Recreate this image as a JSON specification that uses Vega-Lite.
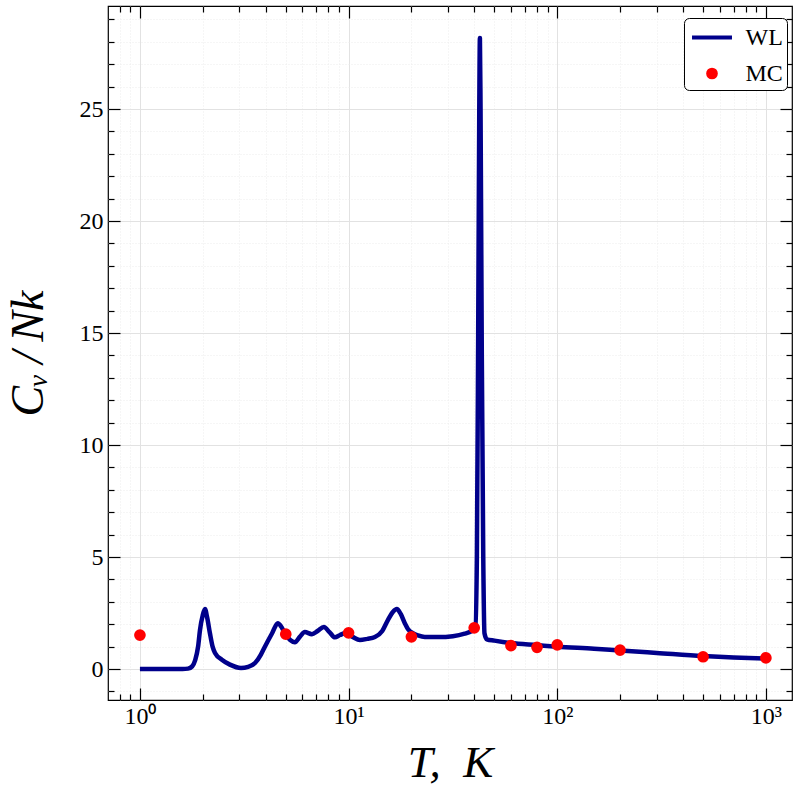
{
  "$schema": "https://vega.github.io/schema/vega-lite/v6.json",
  "width": 684,
  "height": 694,
  "autosize": {"type": "none"},
  "padding": {"left": 108, "top": 6, "right": 1, "bottom": 93},
  "background": "white",
  "config": {
    "view": {"stroke": "black", "strokeWidth": 1.2},
    "axis": {"domain": false, "tickColor": "black", "tickWidth": 1.2, "labelFont": "Liberation Serif", "titleFont": "Liberation Serif", "labelColor": "black", "titleColor": "black", "titleFontWeight": "normal"},
    "legend": {"orient": "none", "legendX": 576, "legendY": 12, "strokeColor": "black", "cornerRadius": 5, "fillColor": "white", "padding": 4,
      "labelFont": "Liberation Serif", "labelFontSize": 24, "labelColor": "black", "symbolSize": 729, "symbolStrokeWidth": 4, "symbolOffset": 8.5, "labelOffset": 18, "rowPadding": 8}
  },
  "datasets": {
    "wl": [
      {"T": 1.0, "Cv": 0}, {"T": 1.3, "Cv": 0}, {"T": 1.6, "Cv": 0}, {"T": 1.7, "Cv": 0.02}, {"T": 1.78, "Cv": 0.12},
      {"T": 1.84, "Cv": 0.4}, {"T": 1.9, "Cv": 1.0}, {"T": 1.94, "Cv": 1.74}, {"T": 2.0, "Cv": 2.4}, {"T": 2.05, "Cv": 2.68},
      {"T": 2.1, "Cv": 2.3}, {"T": 2.165, "Cv": 1.6}, {"T": 2.23, "Cv": 1.0}, {"T": 2.29, "Cv": 0.72}, {"T": 2.47, "Cv": 0.42},
      {"T": 2.7, "Cv": 0.2}, {"T": 3.05, "Cv": 0.05}, {"T": 3.3, "Cv": 0.1}, {"T": 3.56, "Cv": 0.27}, {"T": 3.8, "Cv": 0.65},
      {"T": 3.97, "Cv": 1.0}, {"T": 4.3, "Cv": 1.6}, {"T": 4.58, "Cv": 2.05}, {"T": 4.75, "Cv": 1.9}, {"T": 4.95, "Cv": 1.6},
      {"T": 5.25, "Cv": 1.3}, {"T": 5.53, "Cv": 1.2}, {"T": 5.85, "Cv": 1.45}, {"T": 6.17, "Cv": 1.65}, {"T": 6.67, "Cv": 1.56},
      {"T": 7.1, "Cv": 1.7}, {"T": 7.61, "Cv": 1.88}, {"T": 8.1, "Cv": 1.65}, {"T": 8.6, "Cv": 1.42}, {"T": 9.1, "Cv": 1.52},
      {"T": 9.6, "Cv": 1.6}, {"T": 10.4, "Cv": 1.45}, {"T": 11.33, "Cv": 1.3}, {"T": 12.3, "Cv": 1.35}, {"T": 13.37, "Cv": 1.43},
      {"T": 14.5, "Cv": 1.7}, {"T": 15.43, "Cv": 2.19}, {"T": 16.3, "Cv": 2.55}, {"T": 17.03, "Cv": 2.68}, {"T": 17.8, "Cv": 2.45},
      {"T": 18.6, "Cv": 2.05}, {"T": 19.4, "Cv": 1.75}, {"T": 20.33, "Cv": 1.6}, {"T": 21.5, "Cv": 1.5}, {"T": 23.2, "Cv": 1.43},
      {"T": 27, "Cv": 1.43}, {"T": 31.6, "Cv": 1.47}, {"T": 36, "Cv": 1.58}, {"T": 39.0, "Cv": 1.7}, {"T": 40.5, "Cv": 1.8},
      {"T": 41.2, "Cv": 5}, {"T": 41.8, "Cv": 15}, {"T": 42.3, "Cv": 25}, {"T": 42.6, "Cv": 28.17}, {"T": 42.9, "Cv": 25},
      {"T": 43.5, "Cv": 14}, {"T": 44.2, "Cv": 5}, {"T": 44.8, "Cv": 1.6}, {"T": 46, "Cv": 1.33}, {"T": 50, "Cv": 1.27},
      {"T": 60, "Cv": 1.16}, {"T": 80, "Cv": 1.07}, {"T": 100, "Cv": 1.0}, {"T": 150, "Cv": 0.91}, {"T": 200, "Cv": 0.83},
      {"T": 300, "Cv": 0.72}, {"T": 500, "Cv": 0.58}, {"T": 700, "Cv": 0.52}, {"T": 1000, "Cv": 0.47}
    ],
    "mc": [
      {"T": 1, "Cv": 1.52, "series": "MC"}, {"T": 5, "Cv": 1.56, "series": "MC"}, {"T": 10, "Cv": 1.62, "series": "MC"},
      {"T": 20, "Cv": 1.44, "series": "MC"}, {"T": 40, "Cv": 1.84, "series": "MC"}, {"T": 60, "Cv": 1.05, "series": "MC"},
      {"T": 80, "Cv": 0.97, "series": "MC"}, {"T": 100, "Cv": 1.08, "series": "MC"}, {"T": 200, "Cv": 0.85, "series": "MC"},
      {"T": 500, "Cv": 0.55, "series": "MC"}, {"T": 1000, "Cv": 0.5, "series": "MC"}
    ]
  },
  "layer": [
    {
      "data": {"name": "wl"},
      "mark": {"type": "line", "color": "#00008b", "strokeWidth": 4.5, "interpolate": "monotone", "strokeJoin": "round", "clip": true},
      "encoding": {
        "x": {"field": "T", "type": "quantitative", "scale": {"type": "log", "domain": [0.703, 1334], "nice": false},
          "axis": {"orient": "bottom", "values": [1, 10, 100, 1000], "labelExpr": "datum.value == 1 ? '10⁰' : datum.value == 10 ? '10¹' : datum.value == 100 ? '10²' : '10³'",
            "tickSize": -12, "labelFontSize": 24, "labelPadding": 16, "labelFlush": false, "grid": true, "gridColor": "#e2e2e2", "gridWidth": 1,
            "title": "T,\u00a0\u00a0K", "titleFontSize": 45, "titleFontStyle": "italic", "titlePadding": 12}},
        "y": {"field": "Cv", "type": "quantitative", "scale": {"domain": [-1.38, 29.6], "nice": false, "zero": false},
          "axis": {"orient": "left", "values": [0, 5, 10, 15, 20, 25], "tickSize": -12, "labelFontSize": 24, "labelPadding": 17, "grid": true, "gridColor": "#e2e2e2", "gridWidth": 1,
            "title": "Cᵥ\u2009/\u2009Nk", "titleFontSize": 46, "titleFontStyle": "italic", "titlePadding": 27}}
      }
    },
    {
      "data": {"name": "mc"},
      "mark": {"type": "point", "filled": true, "size": 729, "strokeWidth": 4, "opacity": 1},
      "encoding": {
        "x": {"field": "T", "type": "quantitative", "scale": {"type": "log", "domain": [0.703, 1334], "nice": false},
          "axis": {"orient": "bottom", "values": [0.8, 0.9, 2, 3, 4, 5, 6, 7, 8, 9, 20, 30, 40, 50, 60, 70, 80, 90, 200, 300, 400, 500, 600, 700, 800, 900],
            "labels": false, "tickSize": -6, "grid": true, "gridColor": "#ececec", "gridDash": [1, 2], "title": null}},
        "y": {"field": "Cv", "type": "quantitative", "scale": {"domain": [-1.38, 29.6], "nice": false, "zero": false},
          "axis": {"orient": "left", "values": [-1, 1, 2, 3, 4, 6, 7, 8, 9, 11, 12, 13, 14, 16, 17, 18, 19, 21, 22, 23, 24, 26, 27, 28, 29],
            "labels": false, "tickSize": -6, "grid": true, "gridColor": "#ececec", "gridDash": [1, 2], "title": null}},
        "color": {"field": "series", "type": "nominal", "title": null, "scale": {"domain": ["WL", "MC"], "range": ["#00008b", "#ff0000"]}},
        "stroke": {"field": "series", "type": "nominal", "title": null, "scale": {"domain": ["WL", "MC"], "range": ["#00008b", "#ff0000"]}},
        "shape": {"field": "series", "type": "nominal", "title": null, "scale": {"domain": ["WL", "MC"], "range": ["M-1.48,0H1.48", "M0.285,0A0.285,0.285,0,1,1,-0.285,0A0.285,0.285,0,1,1,0.285,0Z"]}}
      }
    },
    {
      "data": {"name": "mc"},
      "mark": {"type": "point", "opacity": 0},
      "encoding": {
        "x": {"field": "T", "type": "quantitative", "scale": {"type": "log", "domain": [0.703, 1334], "nice": false},
          "axis": {"orient": "top", "values": [1, 10, 100, 1000], "labels": false, "tickSize": -12, "grid": false, "title": null}},
        "y": {"field": "Cv", "type": "quantitative", "scale": {"domain": [-1.38, 29.6], "nice": false, "zero": false},
          "axis": {"orient": "right", "values": [0, 5, 10, 15, 20, 25], "labels": false, "tickSize": -12, "grid": false, "title": null}}
      }
    },
    {
      "data": {"name": "mc"},
      "mark": {"type": "point", "opacity": 0},
      "encoding": {
        "x": {"field": "T", "type": "quantitative", "scale": {"type": "log", "domain": [0.703, 1334], "nice": false},
          "axis": {"orient": "top", "values": [0.8, 0.9, 2, 3, 4, 5, 6, 7, 8, 9, 20, 30, 40, 50, 60, 70, 80, 90, 200, 300, 400, 500, 600, 700, 800, 900],
            "labels": false, "tickSize": -6, "grid": false, "title": null}},
        "y": {"field": "Cv", "type": "quantitative", "scale": {"domain": [-1.38, 29.6], "nice": false, "zero": false},
          "axis": {"orient": "right", "values": [-1, 1, 2, 3, 4, 6, 7, 8, 9, 11, 12, 13, 14, 16, 17, 18, 19, 21, 22, 23, 24, 26, 27, 28, 29],
            "labels": false, "tickSize": -6, "grid": false, "title": null}}
      }
    }
  ],
  "resolve": {"scale": {"x": "shared", "y": "shared", "color": "shared"}, "axis": {"x": "independent", "y": "independent"}}
}
